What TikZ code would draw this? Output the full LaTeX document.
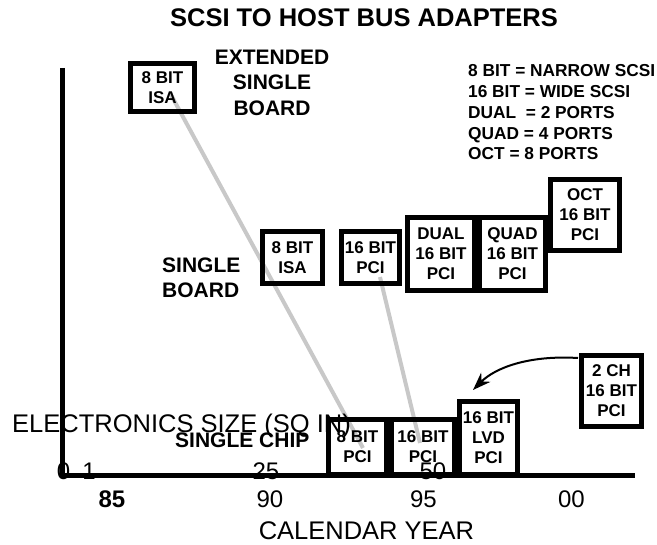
\documentclass[tikz,border=0pt]{standalone}
\usepackage{fontspec}
\setmainfont{Liberation Sans}
\usetikzlibrary{arrows.meta,positioning,backgrounds}
\definecolor{linkgray}{HTML}{C8C8C8}
\tikzset{box/.style={draw,line width=5pt,align=center,inner sep=0pt,
  font=\fontsize{17}{20}\selectfont\bfseries},
  tag/.style={inner sep=0pt,font=\fontsize{21}{25.5}\selectfont\bfseries},
  axislabel/.style={inner sep=0pt,font=\fontsize{25.5}{30}\selectfont},
  tick/.style={inner sep=0pt,anchor=base,font=\fontsize{24}{28}\selectfont},
  link/.style={draw=linkgray,line width=4pt},
  axis/.style={draw,line width=5pt},
  arrow/.style={-{Stealth[length=18pt,width=13pt]},line width=2pt}}

\begin{document}
\begin{tikzpicture}[x=1pt,y=-1pt]
\useasboundingbox (0,0) rectangle (657,545);
% titles and key
\node[inner sep=0pt,anchor=base,font=\fontsize{25.5}{30}\selectfont\bfseries] (title) at (364,27) {SCSI TO HOST BUS ADAPTERS};
\node[tag,align=center] (ext) at (272,82.5) {EXTENDED\\SINGLE\\BOARD};
\node[tag,align=left,anchor=north west] (board) at (162,257.6) {SINGLE\\BOARD};
\node[tag,anchor=base west] (chip) at (175,448) {SINGLE CHIP};
\node[inner sep=0pt,align=left,anchor=north west,font=\fontsize{17.3}{20.75}\selectfont\bfseries] (key) at (468,64.6)
  {8 BIT = NARROW SCSI\\16 BIT = WIDE SCSI\\DUAL\ \ = 2 PORTS\\QUAD = 4 PORTS\\OCT = 8 PORTS};
% adapters
\node[box,minimum width=64pt,minimum height=48pt] (extisa) at (162.5,87.5) {8 BIT\\ISA};
\node[box,minimum width=60pt,minimum height=52pt] (sbisa) at (292.5,257.5) {8 BIT\\ISA};
\node[box,minimum width=58pt,minimum height=52pt] (sbpci) at (370.5,257.5) {16 BIT\\PCI};
\node[box,minimum width=67pt,minimum height=73pt] (dual) at (441,254) {DUAL\\16 BIT\\PCI};
\node[box,minimum width=66pt,minimum height=73pt,right=0pt of dual] (quad) {QUAD\\16 BIT\\PCI};
\node[box,minimum width=69pt,minimum height=71pt] (oct) at (585,215) {OCT\\16 BIT\\PCI};
\node[box,minimum width=60pt,minimum height=71pt] (ch2) at (611.5,391) {2 CH\\16 BIT\\PCI};
\node[box,minimum width=58pt,minimum height=55pt] (chip8) at (357.5,447) {8 BIT\\PCI};
\node[box,minimum width=63pt,minimum height=55pt,right=0pt of chip8] (chip16) {16 BIT\\PCI};
\node[box,minimum width=58pt,minimum height=73pt,anchor=south west] (lvd) at (chip16.south east) {16 BIT\\LVD\\PCI};
% axes
\coordinate (ytop) at (62,68);
\coordinate (orig) at (62,476);
\coordinate (xend) at (635,476);
\draw[axis] (ytop) -- (orig) -- (xend);
\node[axislabel,anchor=base west] (size) at (12,433) {ELECTRONICS SIZE (SQ IN)};
\foreach \x/\t in {63.5/0,89/1,266/25,433/50}
  \node[tick] (s\t) at (\x,480) {\t};
\node[tick,font=\fontsize{24}{28}\selectfont\bfseries] (y85) at (112,508) {85};
\node[tick] (y90) at (270,508) {90};
\node[tick] (y95) at (423.5,508) {95};
\node[tick] (y00) at (571.5,508) {00};
\node[axislabel,anchor=base] (year) at (366.5,540) {CALENDAR YEAR};
% shrink paths
\begin{scope}[on background layer]
\draw[link] ([shift={(7.5,5.5)}]extisa.center) -- ([shift={(5.5,1)}]chip8.center);
\draw[link] ([shift={(9.5,19.5)}]sbpci.center) -- ([shift={(-3,-4)}]chip16.center);
\end{scope}
\coordinate (tip) at (473,390);
\draw[arrow] ([shift={(-1,5)}]ch2.north west) .. controls (528,355) and (495,368) .. (tip);
\end{tikzpicture}
\end{document}
